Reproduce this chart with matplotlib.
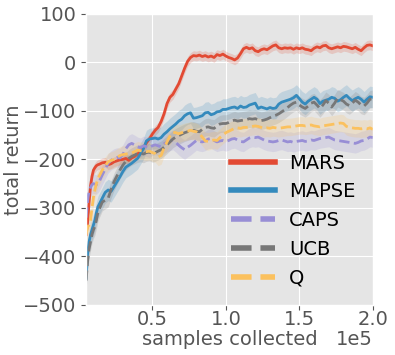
"""
Learning curves: total return vs. samples collected for MARS and baselines.
"""

import matplotlib
matplotlib.use("Agg")
import matplotlib.pyplot as plt
import numpy as np

# sample grid (thousands of samples)
SAMPLES_K = np.r_[np.arange(5, 15, 1), np.arange(16, 201, 2)]

MARS = [
    -355, -330, -290, -255, -235, -222, -217, -213, -211, -210,
    -207, -206, -211, -209, -205, -203, -201, -200, -198, -202,
    -197, -194, -189, -184, -176, -166, -158, -148, -140, -134,
    -122, -106, -85, -72, -66, -55, -44, -28, -12, 2,
    10, 14, 13, 15, 12, 14, 11, 13, 10, 16,
    14, 17, 13, 10, 8, 5, 9, 18, 28, 31,
    28, 30, 24, 22, 26, 28, 26, 30, 34, 36,
    30, 28, 30, 29, 30, 27, 30, 28, 30, 27,
    26, 24, 29, 32, 30, 34, 35, 30, 28, 30,
    32, 30, 33, 32, 30, 28, 31, 27, 24, 30,
    35, 36, 34,
]
MAPSE = [
    -445, -395, -370, -355, -345, -335, -325, -310, -298, -292,
    -280, -268, -263, -266, -256, -246, -236, -225, -216, -212,
    -208, -203, -198, -188, -178, -162, -158, -157, -156, -158,
    -155, -148, -143, -137, -132, -127, -121, -117, -110, -106,
    -104, -115, -114, -112, -110, -104, -103, -108, -106, -102,
    -101, -97, -97, -95, -93, -92, -95, -90, -93, -92,
    -88, -86, -84, -95, -92, -94, -96, -93, -95, -94,
    -86, -82, -80, -78, -76, -73, -68, -75, -82, -86,
    -80, -76, -72, -76, -85, -80, -78, -76, -72, -74,
    -80, -77, -72, -68, -74, -79, -75, -72, -76, -82,
    -76, -71, -72,
]
CAPS = [
    -320, -285, -265, -258, -252, -250, -251, -252, -249, -245,
    -232, -220, -208, -202, -198, -196, -197, -190, -178, -170,
    -167, -170, -174, -176, -172, -174, -176, -172, -170, -172,
    -174, -168, -164, -162, -160, -165, -171, -176, -180, -175,
    -171, -166, -161, -163, -164, -162, -158, -157, -161, -164,
    -162, -161, -163, -161, -158, -157, -160, -163, -164, -160,
    -156, -154, -155, -154, -157, -160, -162, -163, -164, -163,
    -161, -160, -162, -164, -163, -165, -163, -162, -161, -163,
    -162, -160, -161, -159, -157, -156, -155, -154, -157, -160,
    -161, -162, -163, -164, -165, -166, -167, -165, -162, -161,
    -158, -154, -155,
]
UCB = [
    -450, -410, -385, -370, -355, -345, -338, -325, -310, -302,
    -288, -284, -280, -262, -246, -234, -222, -212, -204, -198,
    -194, -191, -188, -187, -189, -186, -185, -188, -186, -183,
    -180, -175, -170, -164, -158, -154, -151, -148, -145, -143,
    -141, -140, -142, -143, -138, -134, -133, -135, -136, -131,
    -127, -126, -126, -124, -121, -119, -121, -120, -119, -118,
    -116, -117, -116, -118, -120, -119, -117, -114, -111, -109,
    -106, -102, -98, -93, -88, -84, -82, -88, -92, -95,
    -90, -84, -82, -88, -95, -88, -79, -84, -92, -84,
    -74, -77, -80, -86, -89, -84, -78, -82, -88, -90,
    -84, -76, -75,
]
Q = [
    -355, -340, -335, -325, -300, -278, -262, -250, -240, -234,
    -222, -213, -205, -202, -200, -196, -192, -190, -189, -188,
    -187, -184, -181, -182, -183, -184, -183, -186, -188, -195,
    -192, -176, -164, -152, -144, -145, -147, -145, -143, -142,
    -140, -142, -143, -147, -154, -162, -163, -161, -160, -161,
    -155, -150, -145, -142, -139, -136, -135, -136, -134, -134,
    -133, -132, -131, -132, -134, -136, -135, -136, -134, -135,
    -136, -135, -134, -133, -133, -132, -131, -130, -130, -131,
    -130, -129, -131, -132, -133, -131, -130, -129, -128, -127,
    -126, -125, -126, -132, -134, -135, -136, -136, -137, -136,
    -137, -135, -138,
]

LABELS = ["MARS", "MAPSE", "CAPS", "UCB", "Q"]
SPREAD = [10, 22, 20, 18, 18]  # half-width of the shaded band
STYLES = ["-", "-", "--", "--", "--"]
COLORS = ["#E24A33", "#348ABD", "#988ED5", "#777777", "#FBC15E"]


def main():
    plt.style.use("ggplot")
    plt.rcParams["font.family"] = ["DejaVu Sans"]

    fig, ax = plt.subplots(figsize=(3.95, 3.55), dpi=100)
    fig.subplots_adjust(left=0.218, right=0.944, top=0.961, bottom=0.141)

    x = SAMPLES_K * 1000
    for label, y, spread, ls, color in zip(LABELS, [MARS, MAPSE, CAPS, UCB, Q], SPREAD, STYLES, COLORS):
        y = np.asarray(y, dtype=float)
        ax.fill_between(x, y - spread, y + spread, color=color, alpha=0.2, linewidth=0)
        ax.plot(x, y, ls, color=color, linewidth=2, label=label)

    ax.set_xlim(5000, 200000)
    ax.set_ylim(-500, 100)
    ax.set_xticks([50000, 100000, 150000, 200000])
    ax.set_yticks(range(-500, 101, 100))
    ax.ticklabel_format(style="sci", axis="x", scilimits=(0, 0))
    ax.tick_params(labelsize=14, colors="#555555")
    ax.tick_params(axis="x", pad=0)
    # offset text drawn by hand so it sits level with the axis label
    ax.xaxis.get_offset_text().set_visible(False)
    ax.text(1.0, -0.118, "1e5", transform=ax.transAxes, ha="right", va="center",
            fontsize=14, color="#555555")

    ax.set_xlabel("samples collected", fontsize=14, color="#555555", labelpad=1)
    ax.set_ylabel("total return", fontsize=14, color="#555555")
    ax.yaxis.set_label_coords(-0.22, 0.5)

    leg = ax.legend(loc="lower right", frameon=False, fontsize=14,
                    handlelength=2.3, handletextpad=0.7)
    for line in leg.get_lines():
        line.set_linewidth(4)

    fig.savefig("out.png", dpi=100)
    plt.close(fig)


if __name__ == "__main__":
    main()
